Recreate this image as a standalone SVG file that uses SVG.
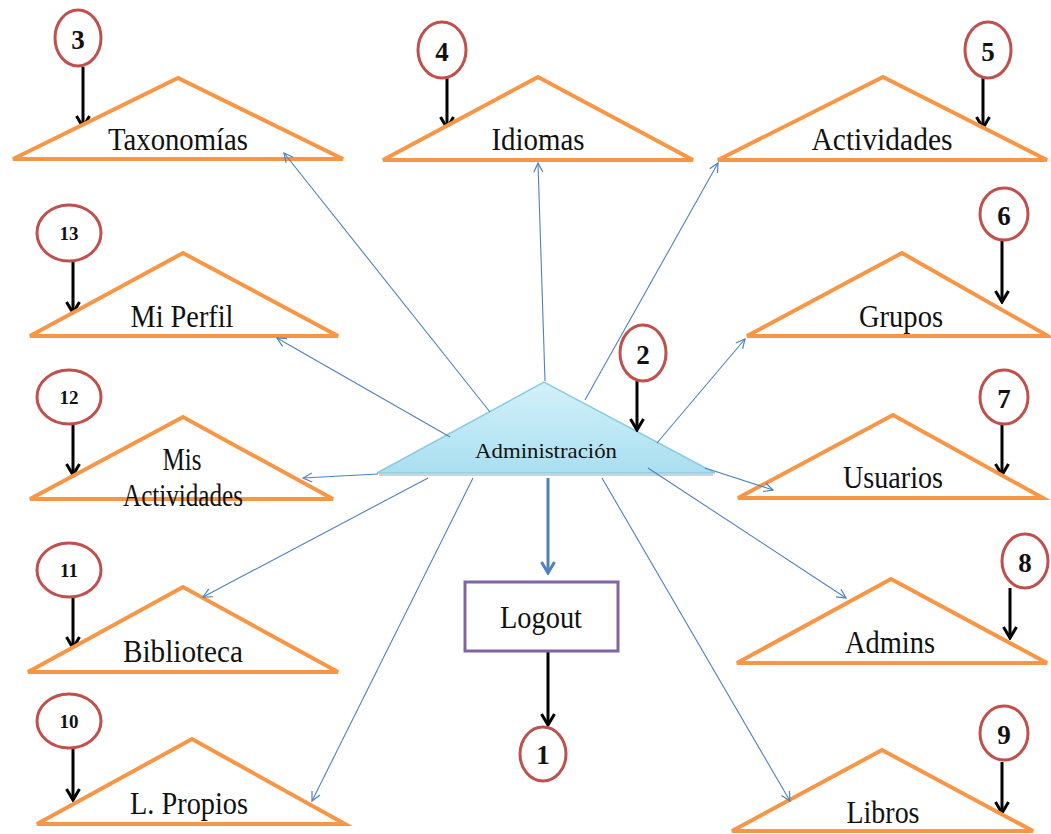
<svg xmlns="http://www.w3.org/2000/svg" width="1051" height="834" viewBox="0 0 1051 834">
  <defs>
    <style>
      .tri { fill: #ffffff; stroke: #f79646; stroke-width: 4; stroke-linejoin: miter; }
      .lbl { font-family: "Liberation Serif", "Times New Roman", serif; font-size: 31px; fill: #111111; text-anchor: middle; }
      .num { fill: #ffffff; stroke: #c0504d; stroke-width: 3; }
      .n1 { font-family: "Liberation Serif", "Times New Roman", serif; font-weight: bold; font-size: 27px; fill: #111111; text-anchor: middle; }
      .n2 { font-family: "Liberation Serif", "Times New Roman", serif; font-weight: bold; font-size: 19px; fill: #111111; text-anchor: middle; }
      .blk { stroke: #000000; stroke-width: 3; fill: none; marker-end: url(#headBlack); }
      .thin { stroke: #4f81bd; stroke-width: 1.1; fill: none; marker-end: url(#headThin); }
      .thick { stroke: #4f81bd; stroke-width: 3; fill: none; marker-end: url(#headBlue); }
    </style>
    <marker id="headBlack" markerUnits="userSpaceOnUse" markerWidth="16" markerHeight="16" viewBox="0 0 16 16" refX="14" refY="8" orient="auto">
      <path d="M3,1.5 L14,8 L3,14.5" fill="none" stroke="#000000" stroke-width="3"/>
    </marker>
    <marker id="headBlue" markerUnits="userSpaceOnUse" markerWidth="16" markerHeight="16" viewBox="0 0 16 16" refX="14" refY="8" orient="auto">
      <path d="M3,1.5 L14,8 L3,14.5" fill="none" stroke="#4f81bd" stroke-width="3"/>
    </marker>
    <marker id="headThin" markerUnits="userSpaceOnUse" markerWidth="12" markerHeight="12" viewBox="0 0 12 12" refX="11" refY="6" orient="auto">
      <path d="M2,1.5 L11,6 L2,10.5" fill="none" stroke="#4f81bd" stroke-width="1.2"/>
    </marker>
    <linearGradient id="adminFill" x1="0" y1="0" x2="0" y2="1">
      <stop offset="0" stop-color="#d4f1fa"/>
      <stop offset="1" stop-color="#a9dff0"/>
    </linearGradient>
  </defs>

  <rect width="1051" height="834" fill="#ffffff"/>

  <!-- central node -->
  <g id="administracion">
    <polygon points="377,473 544,382 715,473" fill="url(#adminFill)" stroke="#8ccbe0" stroke-width="1.5"/>
    <line x1="379" y1="475" x2="713" y2="475" stroke="#b9c6cc" stroke-width="1.5"/>
    <text x="546" y="458" class="lbl" style="font-size:22px" textLength="142" lengthAdjust="spacingAndGlyphs">Administración</text>
  </g>

  <!-- numbered markers pointing at each section -->
  <g id="markers">
    <line class="blk" x1="83" y1="67" x2="83" y2="127"/>
    <line class="blk" x1="447" y1="78" x2="447" y2="128"/>
    <line class="blk" x1="983" y1="78" x2="983" y2="128"/>
    <line class="blk" x1="1002" y1="240" x2="1002" y2="302"/>
    <line class="blk" x1="1002" y1="423" x2="1002" y2="475"/>
    <line class="blk" x1="1010" y1="588" x2="1010" y2="638"/>
    <line class="blk" x1="1002" y1="762" x2="1002" y2="813"/>
    <line class="blk" x1="73" y1="262" x2="73" y2="313"/>
    <line class="blk" x1="73" y1="425" x2="73" y2="475"/>
    <line class="blk" x1="73" y1="597" x2="73" y2="648"/>
    <line class="blk" x1="73" y1="748" x2="73" y2="800"/>
    <line class="blk" x1="637" y1="381" x2="637" y2="430"/>
    <line class="blk" x1="548" y1="651" x2="548" y2="725"/>
  </g>

  <g id="n1"><ellipse class="num" cx="543" cy="754" rx="23" ry="27"/><text class="n1" x="543" y="764">1</text></g>
  <g id="n2"><ellipse class="num" cx="643" cy="353" rx="23" ry="28"/><text class="n1" x="643" y="364">2</text></g>
  <g id="n3"><ellipse class="num" cx="78" cy="38" rx="23" ry="28"/><text class="n1" x="78" y="49">3</text></g>
  <g id="n4"><ellipse class="num" cx="442" cy="50" rx="24" ry="28"/><text class="n1" x="442" y="61">4</text></g>
  <g id="n5"><ellipse class="num" cx="988" cy="50" rx="23" ry="28"/><text class="n1" x="988" y="61">5</text></g>
  <g id="n6"><ellipse class="num" cx="1004" cy="214" rx="24" ry="26"/><text class="n1" x="1004" y="225">6</text></g>
  <g id="n7"><ellipse class="num" cx="1004" cy="397" rx="24" ry="27"/><text class="n1" x="1004" y="408">7</text></g>
  <g id="n8"><ellipse class="num" cx="1025" cy="561" rx="23" ry="27"/><text class="n1" x="1025" y="572">8</text></g>
  <g id="n9"><ellipse class="num" cx="1004" cy="733" rx="24" ry="27"/><text class="n1" x="1004" y="744">9</text></g>
  <g id="n10"><ellipse class="num" cx="69" cy="721" rx="32" ry="27"/><text class="n2" x="69" y="728">10</text></g>
  <g id="n11"><ellipse class="num" cx="69" cy="570" rx="32" ry="27"/><text class="n2" x="69" y="577">11</text></g>
  <g id="n12"><ellipse class="num" cx="69" cy="397" rx="32" ry="27"/><text class="n2" x="69" y="404">12</text></g>
  <g id="n13"><ellipse class="num" cx="69" cy="233" rx="32" ry="28"/><text class="n2" x="69" y="240">13</text></g>

  <!-- section nodes -->
  <g id="taxonomias">
    <polygon class="tri" points="13,159 178,78 343,159"/>
    <text class="lbl" x="178" y="150" textLength="140" lengthAdjust="spacingAndGlyphs">Taxonomías</text>
  </g>
  <g id="idiomas">
    <polygon class="tri" points="383,160 538,77 693,160"/>
    <text class="lbl" x="538" y="150" textLength="93" lengthAdjust="spacingAndGlyphs">Idiomas</text>
  </g>
  <g id="actividades">
    <polygon class="tri" points="718,160 883,77 1047,160"/>
    <text class="lbl" x="882" y="150" textLength="141" lengthAdjust="spacingAndGlyphs">Actividades</text>
  </g>
  <g id="mi-perfil">
    <polygon class="tri" points="30,336 183,253 338,336"/>
    <text class="lbl" x="182" y="327" textLength="103" lengthAdjust="spacingAndGlyphs">Mi Perfil</text>
  </g>
  <g id="mis-actividades">
    <polygon class="tri" points="30,499 183,417 333,499"/>
    <text class="lbl" x="182" y="470" textLength="39" lengthAdjust="spacingAndGlyphs">Mis</text>
    <text class="lbl" x="183" y="506" textLength="120" lengthAdjust="spacingAndGlyphs">Actividades</text>
  </g>
  <g id="biblioteca">
    <polygon class="tri" points="28,672 183,587 338,672"/>
    <text class="lbl" x="183" y="662" textLength="120" lengthAdjust="spacingAndGlyphs">Biblioteca</text>
  </g>
  <g id="l-propios">
    <polygon class="tri" points="37,824 192,739 345,824"/>
    <text class="lbl" x="189" y="814" textLength="118" lengthAdjust="spacingAndGlyphs">L. Propios</text>
  </g>
  <g id="grupos">
    <polygon class="tri" points="747,336 902,253 1048,336"/>
    <text class="lbl" x="901" y="327" textLength="84" lengthAdjust="spacingAndGlyphs">Grupos</text>
  </g>
  <g id="usuarios">
    <polygon class="tri" points="738,498 893,415 1043,498"/>
    <text class="lbl" x="893" y="488" textLength="100" lengthAdjust="spacingAndGlyphs">Usuarios</text>
  </g>
  <g id="admins">
    <polygon class="tri" points="737,663 891,579 1047,663"/>
    <text class="lbl" x="890" y="653" textLength="90" lengthAdjust="spacingAndGlyphs">Admins</text>
  </g>
  <g id="libros">
    <polygon class="tri" points="732,831 882,750 1033,831"/>
    <text class="lbl" x="883" y="823" textLength="73" lengthAdjust="spacingAndGlyphs">Libros</text>
  </g>
  <g id="logout">
    <rect x="465" y="582" width="153" height="69" fill="#ffffff" stroke="#8064a2" stroke-width="3"/>
    <text class="lbl" x="541" y="628" textLength="82" lengthAdjust="spacingAndGlyphs">Logout</text>
  </g>

  <!-- connectors from the central node, drawn over the sections -->
  <g id="connectors">
    <line class="thin" x1="490" y1="412" x2="284" y2="153"/>
    <line class="thin" x1="545" y1="381" x2="538" y2="163"/>
    <line class="thin" x1="585" y1="400" x2="718" y2="163"/>
    <line class="thin" x1="657" y1="443" x2="745" y2="339"/>
    <line class="thin" x1="705" y1="468" x2="773" y2="490"/>
    <line class="thin" x1="648" y1="468" x2="846" y2="598"/>
    <line class="thin" x1="602" y1="478" x2="790" y2="801"/>
    <line class="thin" x1="473" y1="478" x2="312" y2="801"/>
    <line class="thin" x1="428" y1="478" x2="203" y2="597"/>
    <line class="thin" x1="378" y1="474" x2="303" y2="478"/>
    <line class="thin" x1="450" y1="437" x2="277" y2="338"/>
    <line class="thick" x1="548" y1="478" x2="548" y2="573"/>
  </g>
</svg>
